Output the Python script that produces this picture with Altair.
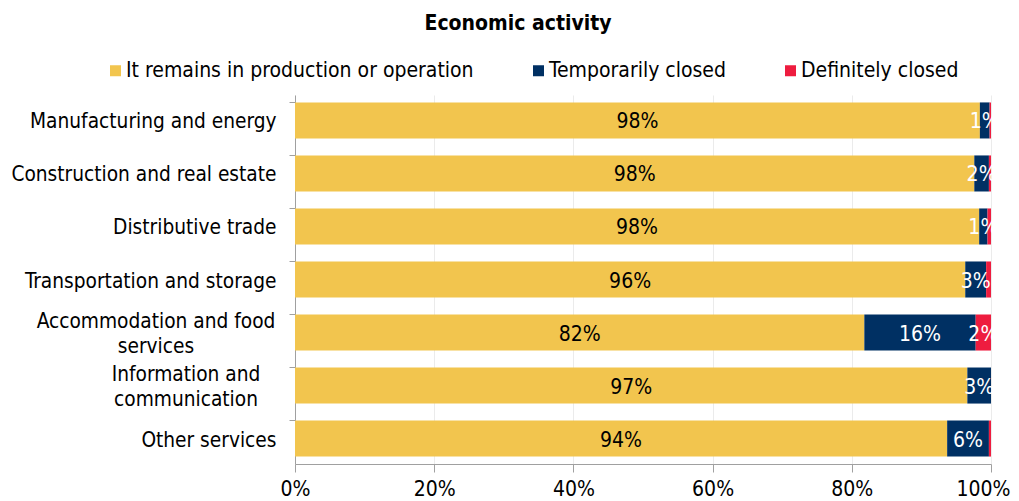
import altair as alt
import pandas as pd

categories = [
    "Manufacturing and energy",
    "Construction and real estate",
    "Distributive trade",
    "Transportation and storage",
    "Accommodation and food services",
    "Information and communication",
    "Other services",
]
series = ["It remains in production or operation", "Temporarily closed", "Definitely closed"]
remains = [98.4, 97.6, 98.3, 96.3, 81.8, 96.6, 93.7]
temporarily = [1.4, 2.1, 1.2, 3.0, 16.0, 3.4, 6.0]
definitely = [0.2, 0.3, 0.5, 0.7, 2.2, 0.0, 0.3]
label_remains = ["98%", "98%", "98%", "96%", "82%", "97%", "94%"]
label_temp = ["1%", "2%", "1%", "3%", "16%", "3%", "6%"]
label_def = ["", "", "", "", "2%", "", ""]
colors = ["#F2C54E", "#003063", "#EE1C3F"]
text_colors = ["black", "white", "white"]
x_ticks = [0, 0.2, 0.4, 0.6, 0.8, 1.0]

# wrapped labels (two lines, centred lines like the original)
wrapped_1 = ("Accommodation and food services", "Accommodation and food|services")
wrapped_2 = ("Information and communication", "Information and|communication")

rows = []
for i, c in enumerate(categories):
    for s, vals, labs, order in [
        (series[0], remains, label_remains, 0),
        (series[1], temporarily, label_temp, 1),
        (series[2], definitely, label_def, 2),
    ]:
        rows.append({"category": c, "series": s, "value": vals[i] / 100.0,
                     "label": labs[i], "order": order})
df = pd.DataFrame(rows)

FONT = "DejaVu Sans Condensed"
FS = 21
FSY = 20.7
GREY = "#A0A0A0"

base = alt.Chart(df).transform_stack(
    stack="value", groupby=["category"], as_=["x0", "x1"],
    sort=[alt.SortField("order", "ascending")]
).transform_calculate(mid="(datum.x0 + datum.x1) / 2")

skip_expr = ("indexof(['%s','%s'], datum.label) >= 0 ? '' : datum.label"
             % (wrapped_1[0], wrapped_2[0]))

y_enc = alt.Y("category:N", sort=categories, title=None,
              scale=alt.Scale(paddingInner=0.32, paddingOuter=0.14),
              axis=alt.Axis(labelExpr=skip_expr, labelFont=FONT,
                            labelFontSize=FSY, labelColor="black", labelPadding=13,
                            labelOffset=2,
                            domainColor=GREY, tickColor=GREY, tickSize=6,
                            bandPosition=0, grid=False, labelLimit=400))

bars = base.mark_bar().encode(
    y=y_enc,
    x=alt.X("x0:Q", title=None,
            scale=alt.Scale(domain=[0, 1], nice=False),
            axis=alt.Axis(format=".0%", values=x_ticks, labelFlush=False,
                          labelOffset={"condition": {"test": "datum.value == 1", "value": -8},
                                       "value": 0},
                          labelFont=FONT, labelFontSize=FS, labelColor="black",
                          labelPadding=6, domainColor=GREY, tickColor=GREY,
                          tickSize=8, gridColor="#EBEBEB", grid=True)),
    x2="x1:Q",
    color=alt.Color("series:N", sort=series,
                    scale=alt.Scale(domain=series, range=colors),
                    legend=alt.Legend(title=None, orient="none", direction="horizontal",
                                      legendX=-190, legendY=-35, labelFont=FONT,
                                      labelFontSize=FS, labelColor="black",
                                      symbolType="square", symbolSize=121,
                                      symbolStrokeWidth=0, columnPadding=54,
                                      labelOffset=0, labelLimit=500)),
)

texts = base.mark_text(font=FONT, fontSize=FS, align="center", baseline="middle",
                       dy=2).encode(
    y=alt.Y("category:N", sort=categories),
    x=alt.X("mid:Q"),
    text="label:N",
    color=alt.Color("series:N", scale=alt.Scale(domain=series, range=text_colors), legend=None),
)

wrap_df = pd.DataFrame({"category": [wrapped_1[0], wrapped_2[0]],
                        "text": [wrapped_1[1], wrapped_2[1]]})
wrap1 = alt.Chart(wrap_df).transform_filter(
    alt.datum.category == wrapped_1[0]
).mark_text(font=FONT, fontSize=FSY, align="center", baseline="middle",
            lineBreak="|", lineHeight=25, dy=-11, color="black").encode(
    y=alt.Y("category:N", sort=categories), x=alt.value(-139), text="text:N")
wrap2 = alt.Chart(wrap_df).transform_filter(
    alt.datum.category == wrapped_2[0]
).mark_text(font=FONT, fontSize=FSY, align="center", baseline="middle",
            lineBreak="|", lineHeight=25, dy=-11, color="black").encode(
    y=alt.Y("category:N", sort=categories), x=alt.value(-109), text="text:N")

chart = alt.layer(bars, texts, wrap1, wrap2).resolve_scale(color="independent").properties(
    width=696, height=369,
    padding={"left": 287, "top": 87, "right": 20, "bottom": 37},
    autosize=alt.AutoSizeParams(type="none"),
    title=alt.TitleParams("Economic activity", font=FONT, fontSize=21, fontWeight="bold",
                          anchor="middle", dx=-125, offset=26, color="black"),
).configure_view(stroke=None)

chart.save("out.html", embed_options={"renderer": "svg", "actions": False})
